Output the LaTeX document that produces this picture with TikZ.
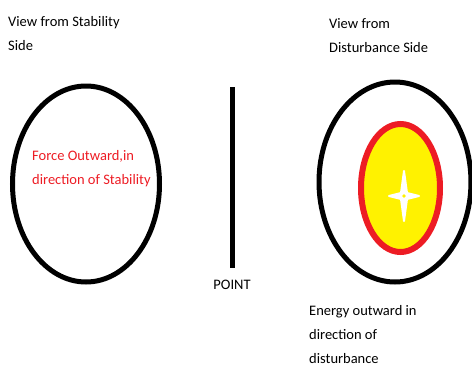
\documentclass[tikz,border=0pt]{standalone}
\usepackage{fontspec}
\setmainfont{Carlito}
\usetikzlibrary{positioning,shapes.geometric}
\definecolor{paintred}{RGB}{237,28,36}
\definecolor{paintyellow}{RGB}{255,242,0}

\begin{document}
\begin{tikzpicture}[x=1pt, y=-1pt]
                            \tikzset{label/.style={anchor=north west, inner sep=0pt, align=left,
                                font=\fontsize{14.5}{24}\selectfont},
                                view/.style={draw, ellipse, line width=5pt}}
                            \useasboundingbox (0,0) rectangle (472,368);
                            \node[label] (stab) at (8,16) {View from Stability\\Side};
                            \node[label] (dist) at (329,18) {View from\\Disturbance Side};
                            \node[view, minimum width=147pt, minimum height=196pt] (left) at (86,184) {};
                            \node[view, minimum width=152pt, minimum height=200pt] (right) at (395,182) {};
                            \node[draw=paintred, fill=paintyellow, ellipse, line width=6pt,
                                minimum width=79pt, minimum height=128pt] (core) at (400.5,188) {};
                            \node[label, text=paintred] (force) at (32,150) {Force Outward,in\\direction of Stability};
                            \coordinate (top) at (232,87);
                            \coordinate (bottom) at (232,268);
                            \draw[line width=5pt] (top) -- (bottom);
                            \node[label, anchor=north] (point) at (bottom |- 0,280) {POINT};
                            \node[label] (energy) at (309,305) {Energy outward in\\direction of\\disturbance};
                            % star in the middle
                            \fill[white, draw=white, line width=2pt, line join=round, shift={(404,196)}]
                                (0,-25) -- (3,-3) -- (15,0) -- (3,3) -- (0,25) -- (-3,3) -- (-15,0) -- (-3,-3) -- cycle;
                            \fill[paintyellow] (404,196) circle (1.8pt);
                        \end{tikzpicture}
\end{document}
